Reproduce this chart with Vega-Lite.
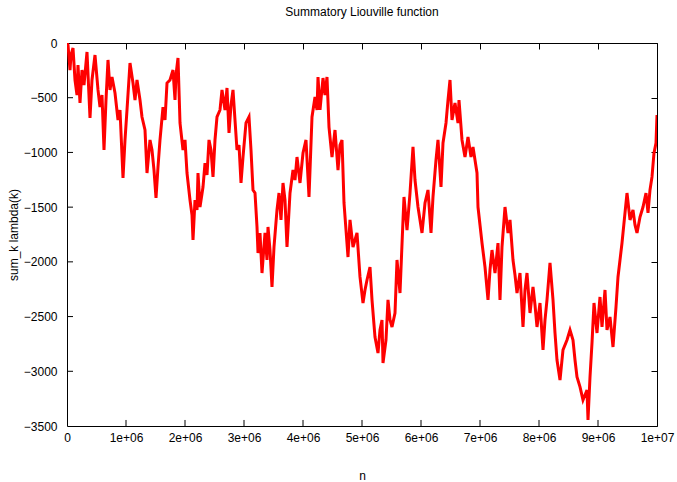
{
  "$schema": "https://vega.github.io/schema/vega-lite/v6.json",
  "width": 590,
  "height": 383,
  "autosize": {"type": "none"},
  "padding": {"left": 67, "top": 43, "right": 20, "bottom": 56},
  "background": "white",
  "title": {
    "text": "Summatory Liouville function",
    "font": "Liberation Sans",
    "fontSize": 12,
    "fontWeight": "normal",
    "color": "#000000",
    "offset": 18
  },
  "config": {
    "view": {"stroke": "#000000", "strokeWidth": 1},
    "axis": {
      "labelFont": "Liberation Sans",
      "labelFontSize": 12,
      "labelColor": "#000000",
      "titleFont": "Liberation Sans",
      "titleFontSize": 12,
      "titleFontWeight": "normal",
      "titleColor": "#000000",
      "grid": false,
      "domain": false,
      "tickColor": "#000000",
      "tickSize": 6,
      "tickWidth": 1
    }
  },
  "datasets": {
    "liouville": [
      {"n": 0, "L": 0}, {"n": 16949, "L": -18}, {"n": 50847, "L": -247}, {"n": 67797, "L": -110},
      {"n": 101695, "L": -46}, {"n": 135593, "L": -338}, {"n": 169492, "L": -475}, {"n": 186441, "L": -201},
      {"n": 220339, "L": -548}, {"n": 254237, "L": -247}, {"n": 288136, "L": -384}, {"n": 338983, "L": -82},
      {"n": 389831, "L": -685}, {"n": 423729, "L": -338}, {"n": 474576, "L": -110}, {"n": 525424, "L": -429},
      {"n": 559322, "L": -585}, {"n": 593220, "L": -475}, {"n": 627119, "L": -978}, {"n": 661017, "L": -521},
      {"n": 694915, "L": -155}, {"n": 728814, "L": -429}, {"n": 762712, "L": -311}, {"n": 813559, "L": -457},
      {"n": 864407, "L": -704}, {"n": 898305, "L": -612}, {"n": 949153, "L": -1234}, {"n": 983051, "L": -886},
      {"n": 1016949, "L": -612}, {"n": 1067797, "L": -183}, {"n": 1118644, "L": -366}, {"n": 1152542, "L": -521},
      {"n": 1186441, "L": -338}, {"n": 1237288, "L": -521}, {"n": 1271186, "L": -676}, {"n": 1322034, "L": -795},
      {"n": 1355932, "L": -1188}, {"n": 1406780, "L": -886}, {"n": 1440678, "L": -978}, {"n": 1474576, "L": -1161},
      {"n": 1508475, "L": -1416}, {"n": 1542373, "L": -1133}, {"n": 1576271, "L": -886}, {"n": 1627119, "L": -585},
      {"n": 1661017, "L": -704}, {"n": 1694915, "L": -366}, {"n": 1745763, "L": -338}, {"n": 1796610, "L": -247},
      {"n": 1830508, "L": -521}, {"n": 1847458, "L": -292}, {"n": 1881356, "L": -137}, {"n": 1915254, "L": -731},
      {"n": 1966102, "L": -978}, {"n": 2000000, "L": -886}, {"n": 2033898, "L": -1188}, {"n": 2084746, "L": -1435},
      {"n": 2118644, "L": -1572}, {"n": 2135593, "L": -1800}, {"n": 2169492, "L": -1435}, {"n": 2203390, "L": -1526},
      {"n": 2220339, "L": -1188}, {"n": 2254237, "L": -1499}, {"n": 2305085, "L": -1316}, {"n": 2338983, "L": -1097},
      {"n": 2372881, "L": -1206}, {"n": 2406780, "L": -886}, {"n": 2440678, "L": -978}, {"n": 2474576, "L": -1224},
      {"n": 2508475, "L": -886}, {"n": 2542373, "L": -676}, {"n": 2593220, "L": -612}, {"n": 2627119, "L": -429},
      {"n": 2677966, "L": -612}, {"n": 2711864, "L": -411}, {"n": 2745763, "L": -822}, {"n": 2779661, "L": -567},
      {"n": 2813559, "L": -429}, {"n": 2847458, "L": -704}, {"n": 2881356, "L": -978}, {"n": 2915254, "L": -932},
      {"n": 2949153, "L": -1279}, {"n": 2983051, "L": -1042}, {"n": 3033898, "L": -731}, {"n": 3084746, "L": -676},
      {"n": 3118644, "L": -978}, {"n": 3152542, "L": -1343}, {"n": 3186441, "L": -1371}, {"n": 3220339, "L": -1681},
      {"n": 3237288, "L": -1919}, {"n": 3271186, "L": -1736}, {"n": 3305085, "L": -2102}, {"n": 3355932, "L": -1736},
      {"n": 3389831, "L": -1983}, {"n": 3406780, "L": -1681}, {"n": 3440678, "L": -1892}, {"n": 3474576, "L": -2230},
      {"n": 3508475, "L": -1864}, {"n": 3559322, "L": -1526}, {"n": 3593220, "L": -1371}, {"n": 3627119, "L": -1617},
      {"n": 3661017, "L": -1279}, {"n": 3694915, "L": -1435}, {"n": 3728814, "L": -1864}, {"n": 3779661, "L": -1371},
      {"n": 3830508, "L": -1161}, {"n": 3864407, "L": -1252}, {"n": 3898305, "L": -1042}, {"n": 3949153, "L": -1279},
      {"n": 4000000, "L": -1005}, {"n": 4050847, "L": -886}, {"n": 4101695, "L": -1407}, {"n": 4152542, "L": -676},
      {"n": 4203390, "L": -493}, {"n": 4237288, "L": -612}, {"n": 4254237, "L": -311}, {"n": 4288136, "L": -612},
      {"n": 4338983, "L": -320}, {"n": 4372881, "L": -475}, {"n": 4406780, "L": -311}, {"n": 4440678, "L": -768},
      {"n": 4491525, "L": -1042}, {"n": 4542373, "L": -795}, {"n": 4593220, "L": -1161}, {"n": 4627119, "L": -932},
      {"n": 4661017, "L": -886}, {"n": 4694915, "L": -1462}, {"n": 4728814, "L": -1709}, {"n": 4762712, "L": -1956},
      {"n": 4796610, "L": -1617}, {"n": 4847458, "L": -1864}, {"n": 4881356, "L": -1800}, {"n": 4915254, "L": -1736},
      {"n": 4966102, "L": -2138}, {"n": 5016949, "L": -2376}, {"n": 5050847, "L": -2257}, {"n": 5084746, "L": -2166},
      {"n": 5135593, "L": -2047}, {"n": 5169492, "L": -2348}, {"n": 5220339, "L": -2687}, {"n": 5271186, "L": -2833},
      {"n": 5305085, "L": -2623}, {"n": 5338983, "L": -2531}, {"n": 5355932, "L": -2924}, {"n": 5406780, "L": -2714},
      {"n": 5440678, "L": -2348}, {"n": 5474576, "L": -2531}, {"n": 5508475, "L": -2595}, {"n": 5559322, "L": -2467},
      {"n": 5593220, "L": -1983}, {"n": 5644068, "L": -2285}, {"n": 5694915, "L": -1617}, {"n": 5711864, "L": -1407},
      {"n": 5762712, "L": -1709}, {"n": 5813559, "L": -1371}, {"n": 5864407, "L": -950}, {"n": 5898305, "L": -1252},
      {"n": 5949153, "L": -1499}, {"n": 5983051, "L": -1617}, {"n": 6016949, "L": -1736}, {"n": 6067797, "L": -1462},
      {"n": 6118644, "L": -1343}, {"n": 6169492, "L": -1736}, {"n": 6203390, "L": -1407}, {"n": 6254237, "L": -1069},
      {"n": 6288136, "L": -886}, {"n": 6338983, "L": -1316}, {"n": 6372881, "L": -914}, {"n": 6423729, "L": -731},
      {"n": 6457627, "L": -521}, {"n": 6491525, "L": -338}, {"n": 6525424, "L": -704}, {"n": 6576271, "L": -548},
      {"n": 6627119, "L": -731}, {"n": 6644068, "L": -521}, {"n": 6694915, "L": -886}, {"n": 6745763, "L": -1042},
      {"n": 6796610, "L": -859}, {"n": 6847458, "L": -1042}, {"n": 6881356, "L": -950}, {"n": 6915254, "L": -1069},
      {"n": 6949153, "L": -1188}, {"n": 6966102, "L": -1499}, {"n": 7000000, "L": -1663}, {"n": 7033898, "L": -1828},
      {"n": 7084746, "L": -2047}, {"n": 7135593, "L": -2348}, {"n": 7169492, "L": -2074}, {"n": 7203390, "L": -1892},
      {"n": 7254237, "L": -2102}, {"n": 7305085, "L": -1828}, {"n": 7338983, "L": -2348}, {"n": 7372881, "L": -1864},
      {"n": 7423729, "L": -1499}, {"n": 7474576, "L": -1736}, {"n": 7508475, "L": -1617}, {"n": 7559322, "L": -1983},
      {"n": 7593220, "L": -2120}, {"n": 7627119, "L": -2285}, {"n": 7677966, "L": -2102}, {"n": 7728814, "L": -2595},
      {"n": 7762712, "L": -2257}, {"n": 7796610, "L": -2102}, {"n": 7847458, "L": -2467}, {"n": 7898305, "L": -2230},
      {"n": 7932203, "L": -2394}, {"n": 7966102, "L": -2595}, {"n": 8016949, "L": -2376}, {"n": 8067797, "L": -2805},
      {"n": 8101695, "L": -2531}, {"n": 8135593, "L": -2348}, {"n": 8186441, "L": -2010}, {"n": 8237288, "L": -2348},
      {"n": 8271186, "L": -2650}, {"n": 8305085, "L": -2897}, {"n": 8355932, "L": -3080}, {"n": 8406780, "L": -2805},
      {"n": 8474576, "L": -2714}, {"n": 8525424, "L": -2623}, {"n": 8576271, "L": -2714}, {"n": 8610169, "L": -2897},
      {"n": 8644068, "L": -3052}, {"n": 8694915, "L": -3143}, {"n": 8745763, "L": -3262}, {"n": 8813559, "L": -3171},
      {"n": 8830508, "L": -3445}, {"n": 8864407, "L": -3052}, {"n": 8898305, "L": -2741}, {"n": 8932203, "L": -2376},
      {"n": 8983051, "L": -2650}, {"n": 9033898, "L": -2321}, {"n": 9067797, "L": -2595}, {"n": 9118644, "L": -2257},
      {"n": 9152542, "L": -2623}, {"n": 9203390, "L": -2504}, {"n": 9254237, "L": -2778}, {"n": 9305085, "L": -2412},
      {"n": 9338983, "L": -2138}, {"n": 9372881, "L": -1983}, {"n": 9406780, "L": -1828}, {"n": 9457627, "L": -1553},
      {"n": 9491525, "L": -1371}, {"n": 9542373, "L": -1617}, {"n": 9593220, "L": -1526}, {"n": 9627119, "L": -1663},
      {"n": 9661017, "L": -1736}, {"n": 9711864, "L": -1590}, {"n": 9762712, "L": -1499}, {"n": 9813559, "L": -1371},
      {"n": 9847458, "L": -1553}, {"n": 9881356, "L": -1343}, {"n": 9915254, "L": -1224}, {"n": 9949153, "L": -1005},
      {"n": 9983051, "L": -914}, {"n": 10000000, "L": -658}
    ],
    "xticks": [
      {"t": 1000000}, {"t": 2000000}, {"t": 3000000}, {"t": 4000000}, {"t": 5000000},
      {"t": 6000000}, {"t": 7000000}, {"t": 8000000}, {"t": 9000000}
    ],
    "yticks": [
      {"v": -3000}, {"v": -2500}, {"v": -2000}, {"v": -1500}, {"v": -1000}, {"v": -500}
    ]
  },
  "layer": [
    {
      "data": {"name": "xticks"},
      "mark": {"type": "rule", "stroke": "#000000", "strokeWidth": 1},
      "encoding": {
        "x": {"field": "t", "type": "quantitative", "scale": {"domain": [0, 10000000], "nice": false, "zero": false}, "axis": null},
        "y": {"datum": -3500, "type": "quantitative", "scale": {"domain": [-3500, 0], "nice": false, "zero": false}, "axis": null},
        "y2": {"datum": -3445}
      }
    },
    {
      "data": {"name": "yticks"},
      "mark": {"type": "rule", "stroke": "#000000", "strokeWidth": 1},
      "encoding": {
        "y": {"field": "v", "type": "quantitative", "scale": {"domain": [-3500, 0], "nice": false, "zero": false}, "axis": null},
        "x": {"datum": 0, "type": "quantitative", "scale": {"domain": [0, 10000000], "nice": false, "zero": false}, "axis": null},
        "x2": {"datum": 101695}
      }
    },
    {
      "data": {"name": "liouville"},
      "mark": {"type": "line", "stroke": "#ff0000", "strokeWidth": 0, "opacity": 0},
      "encoding": {
        "x": {
          "field": "n", "type": "quantitative",
          "scale": {"domain": [0, 10000000], "nice": false, "zero": false},
          "axis": {"orient": "top", "labels": false, "title": null, "offset": -6, "values": [0, 1000000, 2000000, 3000000, 4000000, 5000000, 6000000, 7000000, 8000000, 9000000, 10000000]}
        },
        "y": {
          "field": "L", "type": "quantitative",
          "scale": {"domain": [-3500, 0], "nice": false, "zero": false},
          "axis": {"orient": "right", "labels": false, "title": null, "offset": -6, "values": [-3500, -3000, -2500, -2000, -1500, -1000, -500, 0]}
        }
      }
    },
    {
      "data": {"name": "liouville"},
      "mark": {"type": "line", "stroke": "#ff0000", "strokeWidth": 3, "strokeJoin": "miter", "clip": true},
      "encoding": {
        "x": {
          "field": "n", "type": "quantitative",
          "scale": {"domain": [0, 10000000], "nice": false, "zero": false},
          "axis": {
            "orient": "bottom", "title": "n", "ticks": false, "offset": 0, "titlePadding": 27, "labelPadding": 6,
            "values": [0, 1000000, 2000000, 3000000, 4000000, 5000000, 6000000, 7000000, 8000000, 9000000, 10000000],
            "labelExpr": "datum.value == 0 ? '0' : datum.value == 10000000 ? '1e+07' : '' + round(datum.value / 1000000) + 'e+06'",
            "labelFlush": false, "labelOverlap": false
          }
        },
        "y": {
          "field": "L", "type": "quantitative",
          "scale": {"domain": [-3500, 0], "nice": false, "zero": false},
          "axis": {
            "orient": "left", "title": "sum_k lambda(k)", "ticks": false, "offset": 0, "titlePadding": 3, "labelPadding": 10,
            "values": [-3500, -3000, -2500, -2000, -1500, -1000, -500, 0],
            "format": "d", "labelFlush": false, "labelOverlap": false
          }
        }
      }
    }
  ],
  "resolve": {"axis": {"x": "independent", "y": "independent"}}
}
